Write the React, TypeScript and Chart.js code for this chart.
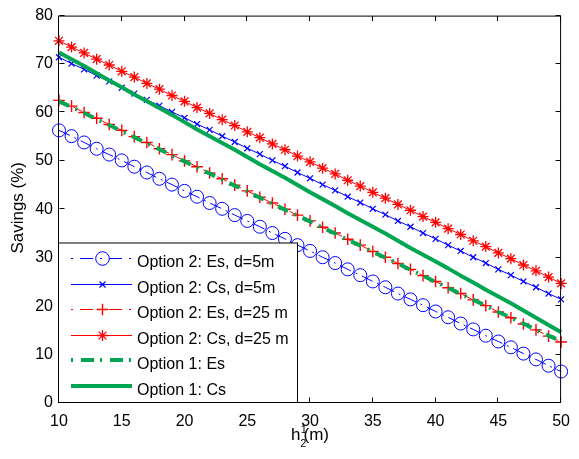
import React, { useEffect, useRef } from "react";
import { Chart, registerables } from "chart.js";

Chart.register(...registerables);

const xValues = [10, 11, 12, 13, 14, 15, 16, 17, 18, 19, 20, 21, 22, 23, 24, 25, 26, 27, 28, 29, 30, 31, 32, 33, 34, 35, 36, 37, 38, 39, 40, 41, 42, 43, 44, 45, 46, 47, 48, 49, 50];

const opt2EsD5 = [56.3, 55.1, 53.8, 52.5, 51.3, 50.1, 48.8, 47.6, 46.3, 45.1, 43.8, 42.6, 41.3, 40.1, 38.8, 37.6, 36.4, 35.1, 33.9, 32.6, 31.4, 30.1, 28.9, 27.6, 26.4, 25.1, 23.9, 22.6, 21.4, 20.2, 18.9, 17.7, 16.4, 15.2, 13.9, 12.7, 11.5, 10.2, 9.0, 7.7, 6.5];
const opt2CsD5 = [71.4, 70.1, 68.9, 67.6, 66.4, 65.1, 63.9, 62.6, 61.4, 60.1, 58.9, 57.6, 56.4, 55.1, 53.9, 52.6, 51.4, 50.1, 48.9, 47.6, 46.4, 45.1, 43.9, 42.6, 41.4, 40.1, 38.9, 37.6, 36.4, 35.1, 33.9, 32.6, 31.4, 30.1, 28.9, 27.6, 26.4, 25.1, 23.9, 22.6, 21.4];
const opt2EsD25 = [62.5, 61.3, 60.0, 58.8, 57.5, 56.3, 55.0, 53.8, 52.5, 51.3, 50.0, 48.8, 47.5, 46.3, 45.0, 43.8, 42.5, 41.3, 40.0, 38.8, 37.6, 36.3, 35.1, 33.8, 32.6, 31.3, 30.1, 28.8, 27.6, 26.3, 25.1, 23.8, 22.6, 21.3, 20.1, 18.8, 17.6, 16.3, 15.1, 13.8, 12.6];
const opt2CsD25 = [74.8, 73.5, 72.3, 71.0, 69.8, 68.5, 67.3, 66.0, 64.8, 63.5, 62.3, 61.0, 59.8, 58.5, 57.3, 56.0, 54.8, 53.5, 52.3, 51.0, 49.8, 48.5, 47.3, 46.0, 44.8, 43.5, 42.3, 41.0, 39.8, 38.5, 37.3, 36.0, 34.8, 33.5, 32.3, 31.0, 29.8, 28.5, 27.3, 26.0, 24.7];
const opt1Es = [62.3, 61.1, 59.9, 58.6, 57.4, 56.1, 54.9, 53.6, 52.4, 51.1, 49.9, 48.6, 47.4, 46.1, 44.9, 43.7, 42.4, 41.2, 39.9, 38.7, 37.5, 36.2, 35.0, 33.7, 32.5, 31.2, 30.0, 28.8, 27.5, 26.3, 25.0, 23.8, 22.5, 21.3, 20.1, 18.8, 17.6, 16.4, 15.1, 13.9, 12.8];
const opt1Cs = [72.4, 71.0, 69.6, 68.1, 66.6, 65.2, 63.7, 62.3, 60.9, 59.5, 58.0, 56.5, 55.1, 53.7, 52.3, 50.8, 49.3, 47.9, 46.5, 45.0, 43.5, 42.1, 40.7, 39.2, 37.8, 36.4, 35.0, 33.5, 32.0, 30.6, 29.2, 27.8, 26.3, 24.9, 23.4, 22.0, 20.6, 19.1, 17.6, 16.1, 14.6];

const xTicks = [10, 15, 20, 25, 30, 35, 40, 45, 50];
const yTicks = [0, 10, 20, 30, 40, 50, 60, 70, 80];

const FONT = '"Liberation Sans", Arial, Helvetica, sans-serif';
const BLUE = "#0000ff";
const RED = "#ff0000";
const GREEN = "#00a651";

type Series = {
  label: string;
  data: number[];
  color: string;
  width: number;
  dash: number[];
  legendDash: number[];
  point: string | false;
  r: number;
  pw: number;
  order: number;
};

const SERIES: Series[] = [
  { label: "Option 2: Es, d=5m", data: opt2EsD5, color: BLUE, width: 1, dash: [12, 5, 2, 5], legendDash: [2, 7, 13, 7], point: "circle", r: 6.5, pw: 1, order: 5 },
  { label: "Option 2: Cs, d=5m", data: opt2CsD5, color: BLUE, width: 1, dash: [], legendDash: [], point: "crossRot", r: 4.2, pw: 1.2, order: 4 },
  { label: "Option 2: Es, d=25 m", data: opt2EsD25, color: RED, width: 1, dash: [10, 6], legendDash: [2, 7, 13, 7], point: "cross", r: 5.8, pw: 1.4, order: 3 },
  { label: "Option 2: Cs, d=25 m", data: opt2CsD25, color: RED, width: 1, dash: [], legendDash: [], point: "star", r: 5.5, pw: 1.3, order: 2 },
  { label: "Option 1: Es", data: opt1Es, color: GREEN, width: 4, dash: [11, 7, 2, 7], legendDash: [2, 8, 13, 6], point: false, r: 0, pw: 0, order: 1 },
  { label: "Option 1: Cs", data: opt1Cs, color: GREEN, width: 4, dash: [], legendDash: [], point: false, r: 0, pw: 0, order: 0 },
];

function drawMarker(ctx: CanvasRenderingContext2D, style: string, x: number, y: number, r: number) {
  ctx.beginPath();
  const d = r * Math.SQRT1_2;
  if (style === "circle") {
    ctx.arc(x, y, r, 0, Math.PI * 2);
  } else if (style === "crossRot" || style === "star") {
    ctx.moveTo(x - d, y - d); ctx.lineTo(x + d, y + d);
    ctx.moveTo(x - d, y + d); ctx.lineTo(x + d, y - d);
  }
  if (style === "cross" || style === "star") {
    ctx.moveTo(x - r, y); ctx.lineTo(x + r, y);
    ctx.moveTo(x, y - r); ctx.lineTo(x, y + r);
  }
  ctx.stroke();
}

const framePlugin = {
  id: "matlabFrame",
  afterDatasetsDraw(chart: any) {
    const { ctx, chartArea: a, scales } = chart;
    const xs = scales.x;
    const ys = scales.y;
    ctx.save();
    ctx.strokeStyle = "#000";
    ctx.lineWidth = 1;
    ctx.setLineDash([]);
    const L = a.left + 0.5, R = a.right - 0.5, T = a.top + 0.5, B = a.bottom - 0.5;
    ctx.beginPath();
    for (const t of xTicks) {
      const px = Math.round(xs.getPixelForValue(t)) - 0.5;
      ctx.moveTo(px, B); ctx.lineTo(px, B - 5);
      ctx.moveTo(px, T); ctx.lineTo(px, T + 5);
    }
    for (const t of yTicks) {
      const py = Math.round(ys.getPixelForValue(t)) - 0.5;
      ctx.moveTo(L, py); ctx.lineTo(L + 5, py);
      ctx.moveTo(R, py); ctx.lineTo(R - 5, py);
    }
    ctx.stroke();
    ctx.strokeRect(L - 1, T, R - L + 1, B - T);

    // legend
    const lx = a.left - 0.5, lw = 239, lh = 159.5;
    const ly = a.bottom - 0.5 - lh;
    ctx.fillStyle = "#fff";
    ctx.fillRect(lx, ly, lw, lh);
    ctx.strokeRect(lx, ly, lw, lh);
    ctx.font = `16px ${FONT}`;
    ctx.textBaseline = "alphabetic";
    ctx.textAlign = "left";
    SERIES.forEach((s, i) => {
      const rowY = Math.round(ly + 15 + i * 25.5) + (s.width % 2 === 1 ? 0.5 : 0);
      ctx.save();
      ctx.strokeStyle = s.color;
      ctx.lineWidth = s.width;
      ctx.setLineDash(s.legendDash);
      ctx.beginPath();
      ctx.moveTo(a.left + 12, rowY);
      ctx.lineTo(a.left + 73, rowY);
      ctx.stroke();
      ctx.setLineDash([]);
      if (s.point) {
        ctx.lineWidth = s.pw;
        drawMarker(ctx, s.point, a.left + 43.5, rowY, s.point === "circle" ? 6.8 : s.point === "crossRot" ? 4.2 : s.r);
      }
      ctx.restore();
      ctx.fillStyle = "#000";
      ctx.fillText(s.label, a.left + 78, Math.round(ly + 15 + i * 25.5) + 8.5);
    });

    // axis titles
    ctx.fillStyle = "#000";
    const cx = (a.left + a.right) / 2;
    ctx.font = `17px ${FONT}`;
    ctx.fillText("h", cx - 19, 440);
    ctx.fillText("(m)", cx - 6.5, 440);
    ctx.font = `11px ${FONT}`;
    ctx.fillText("1", cx - 9.2, 433.3);
    ctx.fillText("2", cx - 9.8, 446.5);

    ctx.save();
    ctx.translate(22.5, (a.top + a.bottom) / 2 - 1.5);
    ctx.rotate(-Math.PI / 2);
    ctx.font = `17px ${FONT}`;
    ctx.textAlign = "center";
    ctx.fillText("Savings (%)", 0, 0);
    ctx.restore();
    ctx.restore();
  },
};

export default function App() {
  const ref = useRef<HTMLCanvasElement | null>(null);
  useEffect(() => {
    document.body.style.margin = "0";
    const canvas = ref.current;
    if (!canvas) return;
    const chart = new Chart(canvas, {
      type: "line",
      data: {
        datasets: SERIES.map((s) => ({
          label: s.label,
          data: xValues.map((x, i) => ({ x, y: s.data[i] })),
          borderColor: s.color,
          borderWidth: s.width,
          borderDash: s.dash,
          borderCapStyle: "butt",
          borderJoinStyle: "round",
          pointStyle: s.point || "circle",
          pointRadius: s.point ? s.r : 0,
          pointHoverRadius: s.point ? s.r : 0,
          pointBorderColor: s.color,
          pointBackgroundColor: "rgba(0,0,0,0)",
          pointBorderWidth: s.pw,
          fill: false,
          tension: 0,
          clip: false as any,
          order: s.order,
        })),
      },
      options: {
        responsive: false,
        animation: false,
        devicePixelRatio: 1,
        layout: { padding: { left: 0, right: 8, top: 8, bottom: 0 } },
        plugins: { legend: { display: false }, tooltip: { enabled: false } },
        events: [],
        scales: {
          x: {
            type: "linear",
            min: 10,
            max: 50,
            afterFit: (s: any) => { s.height = 56; },
            afterBuildTicks: (s: any) => { s.ticks = xTicks.map((v) => ({ value: v })); },
            ticks: { color: "#000", font: { family: FONT, size: 16 }, padding: 9, maxRotation: 0, autoSkip: false },
            grid: { display: false, drawTicks: false },
            border: { display: false },
          },
          y: {
            type: "linear",
            min: 0,
            max: 80,
            afterFit: (s: any) => { s.width = 59; },
            afterBuildTicks: (s: any) => { s.ticks = yTicks.map((v) => ({ value: v })); },
            ticks: { color: "#000", font: { family: FONT, size: 16 }, padding: 6, autoSkip: false },
            grid: { display: false, drawTicks: false },
            border: { display: false },
          },
        },
      },
      plugins: [framePlugin],
    } as any);
    return () => chart.destroy();
  }, []);
  return (
    <div style={{ width: 579, height: 459 }}>
      <canvas ref={ref} width={579} height={459} style={{ display: "block" }} />
    </div>
  );
}
